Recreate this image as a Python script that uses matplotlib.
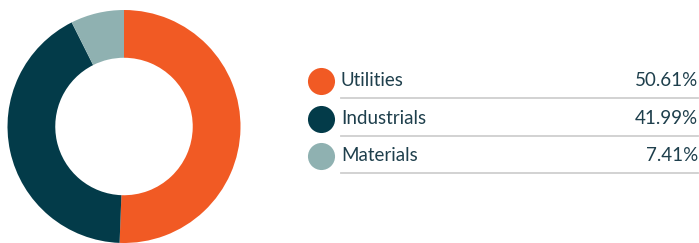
import matplotlib
matplotlib.use("Agg")
import matplotlib.pyplot as plt

labels = ["Utilities", "Industrials", "Materials"]
values = [50.61, 41.99, 7.41]
colors = ["#F15A24", "#033B49", "#8FB1B1"]

W, H = 699, 243
fig = plt.figure(figsize=(W / 100, H / 100), dpi=100)

# donut
ax = fig.add_axes([7 / W, 0 / H, 234 / W, 233 / H])
ax.pie(values, colors=colors, startangle=90, counterclock=False,
       wedgeprops=dict(width=0.41, linewidth=0))
ax.set_aspect("equal")
ax.set_xlim(-1, 1)
ax.set_ylim(-1, 1)
ax.axis("off")

# legend table, drawn in pixel coords
lx = fig.add_axes([0, 0, 1, 1])
lx.set_xlim(0, W)
lx.set_ylim(H, 0)
lx.axis("off")
lx.set_zorder(-1)

row_y = [81, 119, 156]
for i, (lab, val, col) in enumerate(zip(labels, values, colors)):
    y = row_y[i]
    lx.scatter([321], [y], s=380, color=col, linewidths=0)
    lx.text(341, y - 1, lab, fontsize=13.5, family="Lato", color="#1E3F4C",
            va="center", ha="left")
    lx.text(698, y - 1, "%.2f%%" % val, fontsize=13.5, family="Lato", color="#1E3F4C",
            va="center", ha="right")
    lx.plot([341, 698], [y + 16.5, y + 16.5], color="#CFCFCF", lw=1.3)

fig.savefig("out.png", dpi=100)
